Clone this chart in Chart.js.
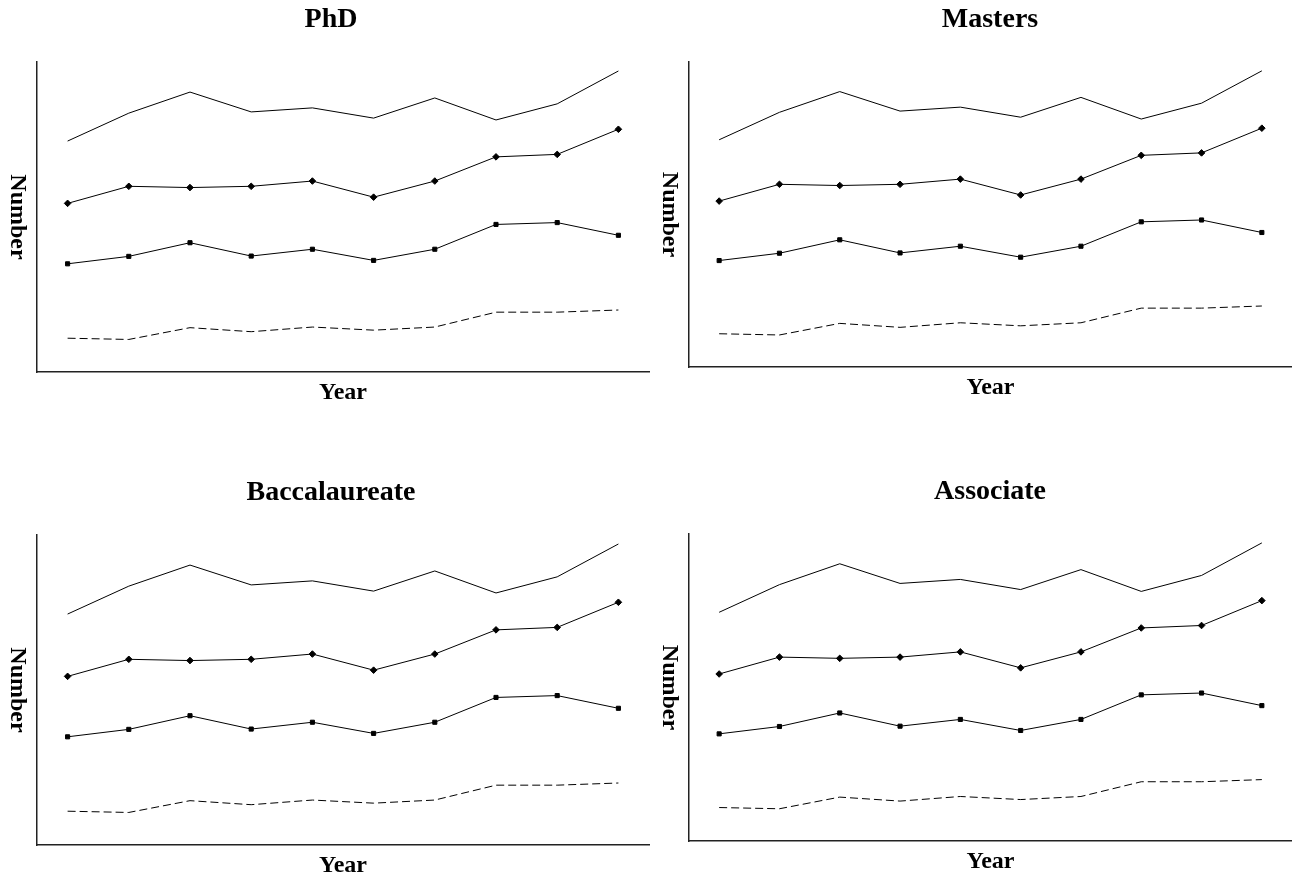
<!DOCTYPE html>
<html lang="en">
<head>
    <meta charset="UTF-8">
    <title>Degrees by Year</title>
<script type="text/javascript" src="https://cdn.jsdelivr.net/npm/chart.js@4.4.1/dist/chart.umd.min.js"></script>
<style>
    body { margin: 0; background: #fff; }
    #wrap { position: relative; width: 1292px; height: 877px; overflow: hidden; }
    canvas { position: absolute; }
</style>
</head>
<body>
    <div id="wrap">
        <canvas id="c1" width="660" height="440" style="left:0;top:0"></canvas>
        <canvas id="c2" width="642" height="440" style="left:650px;top:0"></canvas>
        <canvas id="c3" width="660" height="437" style="left:0;top:440px"></canvas>
        <canvas id="c4" width="642" height="437" style="left:650px;top:440px"></canvas>
    </div>
    <script>
        // values (no tick labels, so on a 0-100 scale)
        const years = ['Y1', 'Y2', 'Y3', 'Y4', 'Y5', 'Y6', 'Y7', 'Y8', 'Y9', 'Y10'];
        const panelTitles = ['PhD', 'Masters', 'Baccalaureate', 'Associate'];
        const totalLine = [74.5, 83.5, 90.3, 83.9, 85.2, 81.9, 88.4, 81.3, 86.5, 97.1];
        const diamondLine = [54.4, 59.9, 59.5, 59.9, 61.6, 56.4, 61.6, 69.4, 70.2, 78.3];
        const squareLine = [34.9, 37.3, 41.7, 37.4, 39.6, 36.0, 39.6, 47.6, 48.2, 44.1];
        const dashedLine = [10.9, 10.5, 14.3, 13.0, 14.5, 13.5, 14.5, 19.3, 19.3, 20.0];

        // where each panel sits inside its canvas
        const panels = [
            { id: 'c1', pad: { left: 37, top: 62, right: 11, bottom: 68 }, titleX: 331, titleY: 27 },
            { id: 'c2', pad: { left: 39, top: 62, right: 0, bottom: 73 }, titleX: 340, titleY: 27 },
            { id: 'c3', pad: { left: 37, top: 95, right: 11, bottom: 32 }, titleX: 331, titleY: 60 },
            { id: 'c4', pad: { left: 39, top: 94, right: 0, bottom: 36 }, titleX: 340, titleY: 59 }
        ];

        const labelPlugin = {
            id: 'labels',
            afterDraw(chart, args, opts) {
                const ctx = chart.ctx;
                const a = chart.chartArea;
                ctx.save();
                ctx.fillStyle = '#000';
                ctx.textAlign = 'center';
                ctx.textBaseline = 'alphabetic';
                ctx.font = 'bold 28px "Liberation Serif", "Times New Roman", serif';
                ctx.fillText(opts.title, opts.titleX, opts.titleY);
                ctx.font = 'bold 24px "Liberation Serif", "Times New Roman", serif';
                ctx.fillText('Year', (a.left + a.right) / 2, a.bottom + 27);
                // y label reads top to bottom
                ctx.translate(a.left - 20, (a.top + a.bottom) / 2);
                ctx.rotate(Math.PI / 2);
                ctx.textBaseline = 'middle';
                ctx.fillText('Number', 0, 0);
                ctx.restore();
            }
        };

        panels.forEach((p, i) => {
            const ctx = document.getElementById(p.id).getContext('2d');
            new Chart(ctx, {
                type: 'line',
                data: {
                    labels: years,
                    datasets: [
                        { label: 'Total', data: totalLine, borderColor: '#000', borderWidth: 1, pointRadius: 0 },
                        { label: 'Series 2', data: diamondLine, borderColor: '#000', backgroundColor: '#000', borderWidth: 1,
                          pointStyle: 'rectRot', pointRadius: 3.3, pointBorderWidth: 1 },
                        { label: 'Series 3', data: squareLine, borderColor: '#000', backgroundColor: '#000', borderWidth: 1,
                          pointStyle: 'rect', pointRadius: 2.9, pointBorderWidth: 1 },
                        { label: 'Series 4', data: dashedLine, borderColor: '#000', borderWidth: 1, borderDash: [8, 4], pointRadius: 0 }
                    ]
                },
                options: {
                    responsive: false,
                    animation: false,
                    layout: { padding: p.pad, autoPadding: false },
                    plugins: {
                        legend: { display: false },
                        tooltip: { enabled: false },
                        labels: { title: panelTitles[i], titleX: p.titleX, titleY: p.titleY }
                    },
                    scales: {
                        x: {
                            offset: true,
                            grid: { display: false, drawTicks: false },
                            ticks: { display: false },
                            border: { display: true, color: '#222', width: 1.5 }
                        },
                        y: {
                            min: 0,
                            max: 100,
                            grid: { display: false, drawTicks: false },
                            ticks: { display: false },
                            border: { display: true, color: '#222', width: 1.5 }
                        }
                    }
                },
                plugins: [labelPlugin]
            });
        });
    </script>
</body>
</html>
